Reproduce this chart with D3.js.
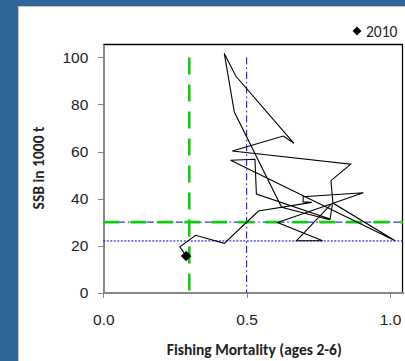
<!DOCTYPE html>
<html>
<head>
<meta charset="utf-8">
<style>
  body { margin: 0; padding: 0; }
  svg { display: block; font-family: Carlito, Lato, "Open Sans", sans-serif; }
  .axis path, .axis line { stroke: #888; shape-rendering: crispEdges; }
  .axis text { font-size: 15.5px; fill: #222; }
  .title { font-weight: bold; fill: #222; }
</style>
<script src="https://cdn.jsdelivr.net/npm/d3@7"></script>
</head>
<body>
<script>
// stock trajectory, F (ages 2-6) against SSB (1000 t), ending 2010
var fValues   = [0.790, 0.622, 0.457, 0.422, 0.462, 0.665, 0.628, 0.450, 0.863, 0.794,
                 0.801, 1.018, 0.444, 0.529, 0.534, 0.791, 0.800, 0.674, 0.765, 0.608,
                 0.907, 0.697, 0.697, 0.727, 0.541, 0.422, 0.322, 0.267, 0.289];
var ssbValues = [31.0, 36.3, 76.8, 101.7, 92.1, 63.5, 66.6, 60.2, 54.6, 47.6,
                 38.1, 22.1, 56.3, 56.7, 41.9, 31.3, 38.3, 22.1, 22.1, 29.8,
                 42.5, 40.8, 38.6, 38.4, 34.7, 21.0, 24.4, 19.5, 15.6];
var lastYear = "2010";

// reference points
var Fpa = 0.3, Flim = 0.5, Bpa = 30, Blim = 22;

var xTicks = [0, 0.5, 1.0];
var yTicks = [0, 20, 40, 60, 80, 100];

var W = 405, H = 361;
var margin = {left: 103.3, top: 44, right: 2, bottom: 68.3};
var width = W - margin.left - margin.right,
    height = H - margin.top - margin.bottom;

var svg = d3.select("body").append("svg")
    .attr("width", W)
    .attr("height", H);

svg.append("rect").attr("width", W).attr("height", H).attr("fill", "#2f6598");
svg.append("rect")
    .attr("x", 18.5).attr("y", 6.5)
    .attr("width", W).attr("height", H)
    .attr("fill", "#fff")
    .attr("stroke", "#c4c4c4");

var x = d3.scaleLinear().domain([0, width / 286.7]).range([0, width]);
var y = d3.scaleLinear().domain([0, height / 2.353]).range([height, 0]);

var g = svg.append("g")
    .attr("transform", "translate(" + margin.left + "," + margin.top + ")");

// plot frame, top and right black
g.append("line").attr("x1", 0).attr("x2", width).attr("y1", 0.5).attr("y2", 0.5)
    .attr("stroke", "#000").attr("stroke-width", 1.3);
g.append("line").attr("x1", width - 0.5).attr("x2", width - 0.5).attr("y1", 0).attr("y2", height)
    .attr("stroke", "#000").attr("stroke-width", 1.3);

var xAxis = g.append("g")
    .attr("class", "x axis")
    .attr("transform", "translate(0," + height + ")")
    .call(d3.axisBottom(x).tickValues(xTicks).tickFormat(d3.format(".1f"))
        .tickSize(5).tickSizeOuter(0).tickPadding(16));

var yAxis = g.append("g")
    .attr("class", "y axis")
    .call(d3.axisLeft(y).tickValues(yTicks).tickSize(5).tickSizeOuter(0).tickPadding(10));

g.selectAll(".axis path").attr("stroke-width", 1.5);

// reference lines
var dashdot = "7,3,1.5,3";
g.append("line")
    .attr("x1", x(Flim)).attr("x2", x(Flim))
    .attr("y1", y(100)).attr("y2", y(0))
    .attr("stroke", "#0000ee").attr("stroke-width", 1)
    .attr("stroke-dasharray", dashdot);
g.append("line")
    .attr("x1", x(0)).attr("x2", width)
    .attr("y1", y(Bpa)).attr("y2", y(Bpa))
    .attr("stroke", "#0000ee").attr("stroke-width", 1)
    .attr("stroke-dasharray", dashdot);
g.append("line")
    .attr("x1", x(0)).attr("x2", width)
    .attr("y1", y(Blim)).attr("y2", y(Blim))
    .attr("stroke", "#0000cc").attr("stroke-width", 1)
    .attr("stroke-dasharray", "2,1.5");
g.append("line")
    .attr("x1", x(Fpa)).attr("x2", x(Fpa))
    .attr("y1", y(100)).attr("y2", y(0))
    .attr("stroke", "#11cc11").attr("stroke-width", 2.6)
    .attr("stroke-dasharray", "17,10");
g.append("line")
    .attr("x1", x(0)).attr("x2", width)
    .attr("y1", y(Bpa)).attr("y2", y(Bpa))
    .attr("stroke", "#11cc11").attr("stroke-width", 2.6)
    .attr("stroke-dasharray", "16,11");

// trajectory
var pts = fValues.map(function(f, i) { return [f, ssbValues[i]]; });
var line = d3.line()
    .x(function(d) { return x(d[0]); })
    .y(function(d) { return y(d[1]); });

g.append("path")
    .datum(pts)
    .attr("d", line)
    .attr("fill", "none")
    .attr("stroke", "#000")
    .attr("stroke-width", 1.1)
    .attr("stroke-linejoin", "miter");

var last = pts[pts.length - 1];
var diamond = d3.symbol().type(d3.symbolDiamond2).size(70);
g.append("path")
    .attr("d", diamond)
    .attr("transform", "translate(" + x(last[0]) + "," + y(last[1]) + ")")
    .attr("fill", "#000");

// legend
svg.append("path")
    .attr("d", d3.symbol().type(d3.symbolDiamond2).size(50))
    .attr("transform", "translate(357,31)")
    .attr("fill", "#000");
svg.append("text")
    .attr("x", 366).attr("y", 36.5)
    .attr("font-size", 15.5).attr("fill", "#222")
    .text(lastYear);

// axis titles
svg.append("text")
    .attr("class", "title")
    .attr("font-size", 15.5)
    .attr("x", margin.left + 151).attr("y", 355)
    .attr("text-anchor", "middle")
    .text("Fishing Mortality (ages 2-6)");
svg.append("text")
    .attr("class", "title")
    .attr("font-size", 15.5)
    .attr("transform", "translate(44,168) rotate(-90)")
    .attr("text-anchor", "middle")
    .text("SSB in 1000 t");
</script>
</body>
</html>
